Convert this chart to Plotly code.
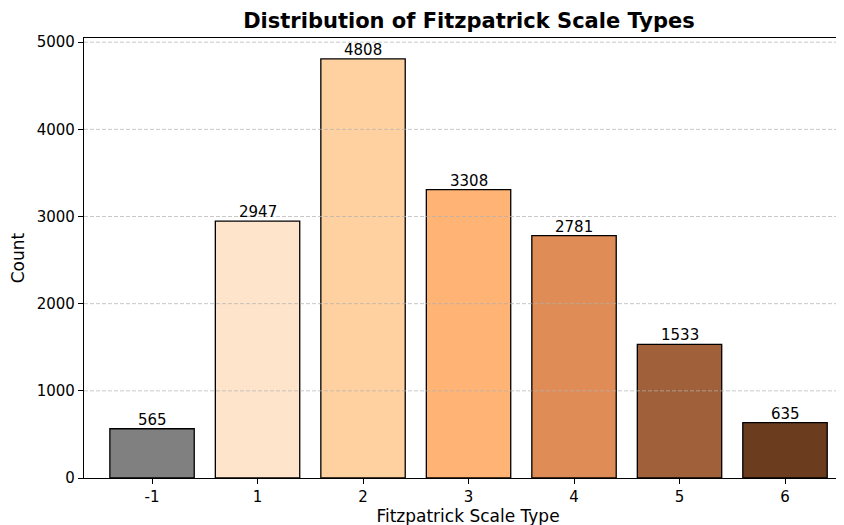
import plotly.graph_objects as go

categories = ["-1", "1", "2", "3", "4", "5", "6"]
counts = [565, 2947, 4808, 3308, 2781, 1533, 635]
bar_colors = ["#808080", "#FFE4CC", "#FFD0A0", "#FFB375", "#E08C56", "#A0603A", "#6B3D1E"]
y_ticks = [0, 1000, 2000, 3000, 4000, 5000]

font_family = "DejaVu Sans"

fig = go.Figure(go.Bar(
    x=categories,
    y=counts,
    width=0.8,
    marker=dict(color=bar_colors, line=dict(color="black", width=1.3)),
))

shapes = []
for t in y_ticks[1:]:
    shapes.append(dict(type="line", xref="paper", x0=0, x1=1, yref="y", y0=t, y1=t,
                       line=dict(color="rgba(176,176,176,0.7)", width=1, dash="4px,2px"),
                       layer="above"))

annotations = []
for i, v in enumerate(counts):
    annotations.append(dict(x=i, y=v, xref="x", yref="y", text=str(v), showarrow=False,
                            yanchor="bottom", xanchor="center", yshift=-2,
                            font=dict(family=font_family, size=15, color="black")))

fig.update_layout(
    width=844, height=525,
    margin=dict(l=76, r=0, t=30, b=55),
    plot_bgcolor="white", paper_bgcolor="white",
    font=dict(family=font_family, color="black"),
    title=dict(text="<b>Distribution of Fitzpatrick Scale Types</b>",
               font=dict(family=font_family, size=21, color="black"),
               xref="container", x=461 / 844, xanchor="center",
               yref="container", y=1 - 13 / 525, yanchor="middle"),
    showlegend=False,
    bargap=0.2,
    shapes=shapes,
    annotations=annotations,
    xaxis=dict(
        type="category",
        range=[-0.645, 6.635],
        showline=True, linecolor="black", linewidth=1.2, mirror=True,
        ticks="outside", ticklen=5, tickcolor="black", tickwidth=1,
        tickfont=dict(family=font_family, size=15, color="black"),
        showgrid=False,
        title=dict(text="Fitzpatrick Scale Type", font=dict(family=font_family, size=17, color="black"), standoff=4),
    ),
    yaxis=dict(
        range=[0, 5048],
        tickvals=y_ticks,
        showline=True, linecolor="black", linewidth=1.2,
        ticks="outside", ticklen=5, tickcolor="black", tickwidth=1,
        tickfont=dict(family=font_family, size=15, color="black"),
        showgrid=False, zeroline=False,
        title=dict(text="Count", font=dict(family=font_family, size=17, color="black"), standoff=10),
    ),
)

fig.write_html("out.html")
